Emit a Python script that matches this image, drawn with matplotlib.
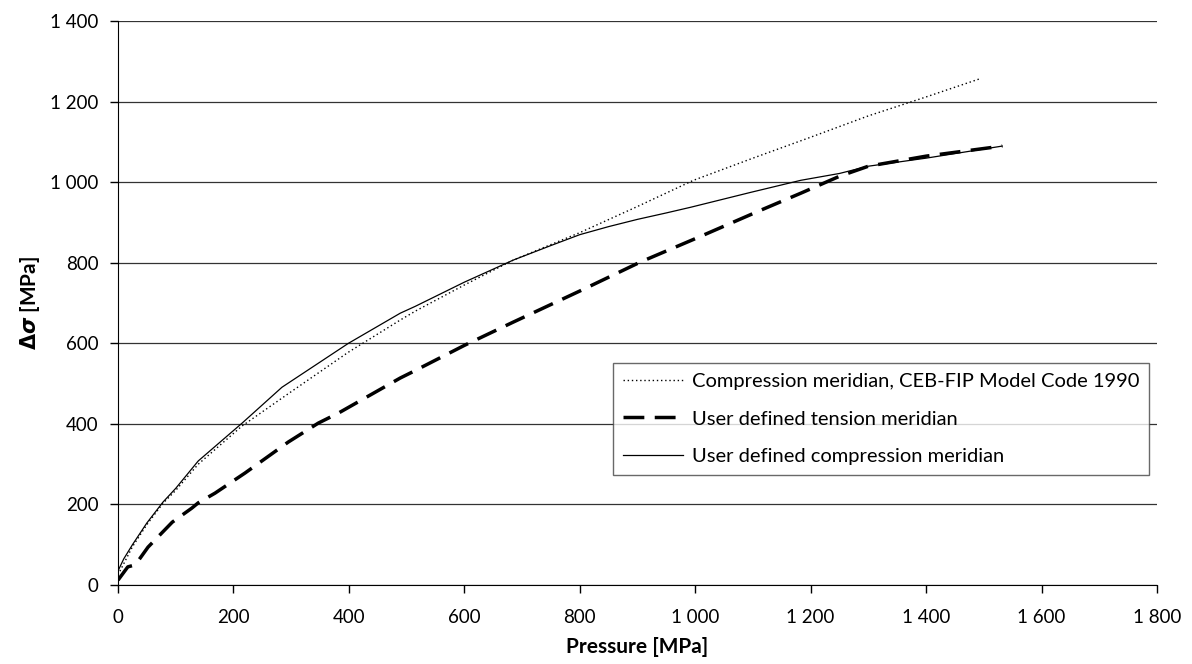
import matplotlib.pyplot as plt
from matplotlib.ticker import FuncFormatter

plt.rcParams['font.family'] = ['Lato', 'DejaVu Sans']

# CEB-FIP compression meridian (dotted)
ceb_p = [0, 25, 50, 78, 100, 139, 215, 300, 399, 489, 515, 600, 685, 800, 900, 997,
         1100, 1200, 1300, 1400, 1495]
ceb_s = [25, 95, 150, 203, 235, 300, 395, 480, 578, 658, 680, 745, 807, 875, 940, 1005,
         1060, 1112, 1165, 1212, 1258]

# user defined tension meridian (dashed)
ten_p = [0, 17, 30, 52, 94, 128, 139, 168, 220, 295, 347, 382, 489, 510, 600, 685, 800,
         905, 1000, 1114, 1183, 1250, 1300, 1400, 1532]
ten_s = [12, 45, 50, 94, 156, 191, 204, 228, 278, 355, 402, 427, 514, 529, 595, 653, 730,
         802, 860, 931, 973, 1015, 1040, 1065, 1090]

# user defined compression meridian (solid)
comp_p = [0, 10, 25, 50, 78, 100, 139, 215, 284, 399, 489, 515, 600, 685, 750, 800, 850,
          900, 950, 992, 1096, 1183, 1250, 1300, 1400, 1532]
comp_s = [35, 65, 100, 154, 206, 240, 308, 402, 491, 600, 675, 692, 752, 807, 843, 870, 890,
          908, 924, 938, 975, 1005, 1022, 1040, 1060, 1090]

fig = plt.figure(figsize=(11.92, 6.64), dpi=100)
ax = fig.add_axes([0.099, 0.119, 0.8716, 0.849])

ax.plot(ceb_p, ceb_s, color='black', lw=1.0, ls=(0, (1, 2)),
        label='Compression meridian, CEB-FIP Model Code 1990')
ax.plot(ten_p, ten_s, color='black', lw=2.5, ls=(0, (6, 3)),
        label='User defined tension meridian')
ax.plot(comp_p, comp_s, color='black', lw=0.9, ls='-',
        label='User defined compression meridian')

ax.set_xlim(0, 1800)
ax.set_ylim(0, 1400)
ax.set_xticks(range(0, 1801, 200))
ax.set_yticks(range(0, 1401, 200))

fmt = FuncFormatter(lambda v, pos: f'{int(v):,}'.replace(',', ' '))
ax.xaxis.set_major_formatter(fmt)
ax.yaxis.set_major_formatter(fmt)

ax.yaxis.grid(True, color='#333333', lw=0.9)
ax.set_axisbelow(True)
for s in ['top', 'right']:
    ax.spines[s].set_visible(False)
ax.tick_params(direction='out', length=6, width=1, labelsize=13.5)
ax.tick_params(axis='x', pad=11)
ax.tick_params(axis='y', pad=8)

ax.set_xlabel('Pressure [MPa]', fontsize=15, fontweight='bold', labelpad=8)
ax.set_ylabel(r'$\mathbf{\Delta}\boldsymbol{\sigma}$ [MPa]', fontsize=15, fontweight='bold', labelpad=6)

leg = ax.legend(loc='upper left', bbox_to_anchor=(0.4764, 0.3936), fontsize=14.5,
                frameon=True, fancybox=False, edgecolor='#444444', handlelength=3.0,
                borderpad=0.5, labelspacing=1.0, handletextpad=0.4, borderaxespad=0)
leg.get_frame().set_linewidth(1.0)

fig.savefig('out.png', dpi=100)
